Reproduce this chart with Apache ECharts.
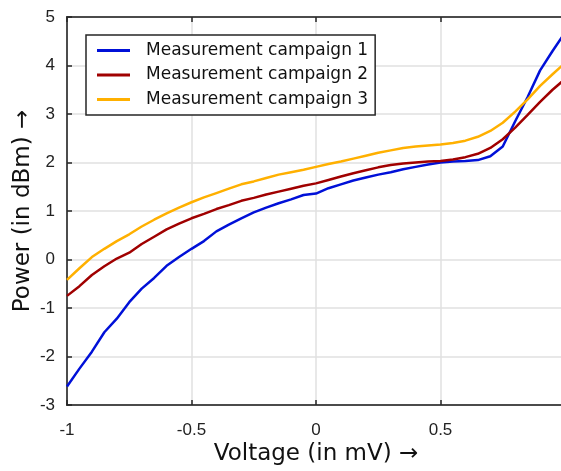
<!DOCTYPE html>
<html>
<head>
<meta charset="utf-8">
<script src="https://cdn.jsdelivr.net/npm/echarts@6/dist/echarts.min.js"></script>
<style>
html,body{margin:0;padding:0;background:#fff;}
#chart{width:561px;height:471px;}
</style>
</head>
<body>
<div id="chart"></div>
<script>
const voltage = [-1,-0.95,-0.9,-0.85,-0.8,-0.75,-0.7,-0.65,-0.6,-0.55,-0.5,-0.45,-0.4,-0.35,-0.3,-0.25,-0.2,-0.15,-0.1,-0.05,0,0.05,0.1,0.15,0.2,0.25,0.3,0.35,0.4,0.45,0.5,0.55,0.6,0.65,0.7,0.75,0.8,0.85,0.9,0.95,1];
const campaign1 = [-2.62,-2.25,-1.90,-1.50,-1.22,-0.88,-0.60,-0.38,-0.13,0.05,0.22,0.38,0.58,0.72,0.85,0.97,1.07,1.16,1.24,1.33,1.36,1.47,1.55,1.63,1.69,1.75,1.80,1.86,1.91,1.96,2.00,2.02,2.03,2.05,2.13,2.33,2.85,3.35,3.90,4.30,4.68];
const campaign2 = [-0.75,-0.55,-0.32,-0.14,0.02,0.14,0.32,0.47,0.62,0.74,0.85,0.94,1.04,1.12,1.21,1.27,1.34,1.40,1.46,1.52,1.57,1.64,1.71,1.78,1.84,1.90,1.95,1.98,2.00,2.02,2.03,2.06,2.11,2.18,2.30,2.48,2.72,2.98,3.25,3.50,3.72];
const campaign3 = [-0.42,-0.18,0.05,0.22,0.38,0.52,0.68,0.82,0.95,1.07,1.18,1.28,1.37,1.46,1.55,1.61,1.68,1.75,1.80,1.85,1.91,1.97,2.02,2.08,2.14,2.20,2.25,2.30,2.33,2.35,2.37,2.40,2.45,2.53,2.65,2.82,3.05,3.30,3.58,3.82,4.05];
const seriesNames = ['Measurement campaign 1','Measurement campaign 2','Measurement campaign 3'];
const seriesColors = ['#0010d8','#a00000','#ffb000'];

const zip = (xs, ys) => xs.map((x, i) => [x, ys[i]]);
const allData = [campaign1, campaign2, campaign3];

const chart = echarts.init(document.getElementById('chart'), null, {renderer: 'canvas'});
const axisLine = {onZero: false, lineStyle: {color: '#262626', width: 1.5}};
chart.setOption({
  animation: false,
  backgroundColor: '#fff',
  grid: {left: 67, top: 17, right: -4, bottom: 66, show: true, borderColor: '#262626', borderWidth: 1.5,
    containLabel: false, outerBoundsMode: 'none'},
  legend: {
    left: 86, top: 35, orient: 'vertical',
    data: seriesNames,
    icon: 'rect',
    backgroundColor: '#fff',
    borderColor: '#262626', borderWidth: 1.5, borderRadius: 0,
    padding: [7, 7, 7, 11],
    itemWidth: 33, itemHeight: 3, itemGap: 7.5,
    textStyle: {fontFamily: 'DejaVu Sans', fontSize: 17, color: '#111', lineHeight: 17, padding: [0, 0, 0, 11]}
  },
  xAxis: [{
    type: 'value', min: -1, max: 1, interval: 0.5,
    name: 'Voltage (in mV) \u2192', nameLocation: 'middle', nameGap: 38, nameMoveOverlap: false,
    nameTextStyle: {fontFamily: 'DejaVu Sans', fontSize: 23, color: '#111'},
    axisLine: axisLine,
    axisTick: {inside: true, length: 5, lineStyle: {color: '#262626', width: 1.5}},
    axisLabel: {fontFamily: 'Liberation Sans', fontSize: 17, color: '#222', margin: 17,
      formatter: v => (Math.abs(v - 1) < 1e-9 ? '' : String(v))},
    splitLine: {show: true, lineStyle: {color: '#e0e0e0', width: 1.5}}
  }, {
    type: 'value', min: -1, max: 1, interval: 0.5, position: 'top',
    axisLine: axisLine,
    axisTick: {inside: true, length: 5, lineStyle: {color: '#262626', width: 1.5}},
    axisLabel: {show: false}, splitLine: {show: false}
  }],
  yAxis: {
    type: 'value', min: -3, max: 5, interval: 1,
    name: 'Power (in dBm) \u2192', nameLocation: 'middle', nameGap: 32, nameRotate: 90, nameMoveOverlap: false,
    nameTextStyle: {fontFamily: 'DejaVu Sans', fontSize: 23, color: '#111'},
    axisLine: {show: true, onZero: false, lineStyle: {color: '#262626', width: 1.5}},
    axisTick: {show: true, inside: true, length: 5, lineStyle: {color: '#262626', width: 1.5}},
    axisLabel: {fontFamily: 'Liberation Sans', fontSize: 17, color: '#222', margin: 12},
    splitLine: {show: true, lineStyle: {color: '#e0e0e0', width: 1.5}}
  },
  series: allData.map((d, i) => ({
    name: seriesNames[i], type: 'line', data: zip(voltage, d),
    symbol: 'none', smooth: false, clip: true,
    lineStyle: {color: seriesColors[i], width: 2.5},
    itemStyle: {color: seriesColors[i]}
  }))
});
</script>
</body>
</html>
